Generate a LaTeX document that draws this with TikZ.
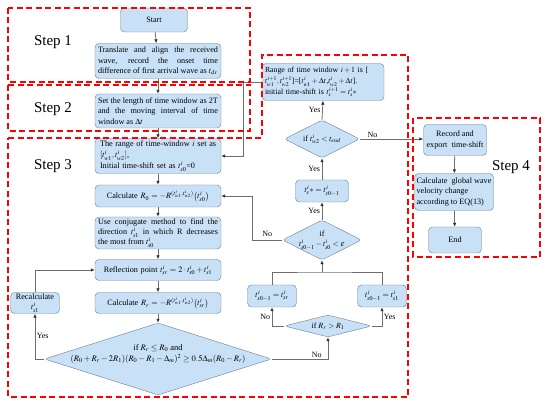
\documentclass[tikz,border=0pt]{standalone}
\usepackage{amsmath,amssymb}
\usepackage{mathptmx}
\usepackage{fontspec}
\setmainfont{Liberation Serif}
\usepackage{tikz}
\usetikzlibrary{arrows.meta,positioning,calc,shapes.geometric}
\definecolor{boxblue}{HTML}{C9E1F7}
\definecolor{boxedge}{HTML}{6B7C8E}
\definecolor{linegray}{HTML}{6E6E6E}
\newcommand{\nohyph}{\hyphenpenalty=10000\exhyphenpenalty=10000}
\tikzset{
  proc/.style={draw=boxedge,rounded corners=4pt,fill=boxblue,inner xsep=3pt,inner ysep=1pt,align=justify,
               font=\fontsize{8.2}{10.3}\selectfont\nohyph},
  decide/.style={draw=boxedge,diamond,rounded corners=3pt,fill=boxblue,inner sep=0pt},
  dtext/.style={align=center,inner sep=0pt,font=\fontsize{8}{10.5}\selectfont},
  link/.style={draw=linegray,line width=0.8pt,-{Latex[length=4pt,width=3.5pt,color=black!80]}},
  joint/.style={draw=linegray,line width=0.8pt},
  stepbox/.style={draw=red,line width=1.3pt,dash pattern=on 6pt off 3.5pt},
  steptext/.style={font=\fontsize{15}{17}\selectfont},
  yn/.style={font=\fontsize{8}{9}\selectfont,inner sep=1.5pt},
}

\begin{document}
\begin{tikzpicture}[x=1pt,y=-1pt]
  \useasboundingbox (0,0) rectangle (550,403);
  % main column
  \node[proc,minimum width=67pt,minimum height=24pt,align=center] (start) at (154,20) {Start};
  \node[proc,text width=120pt,minimum height=35pt] (trans) at (158,61) {Translate and align the received\linebreak
     wave, record the onset time\linebreak difference of first arrival wave as $t_{ds}$};
  \node[proc,text width=120pt,minimum height=34pt] (setw) at (158,111) {Set the length of time window as 2T\linebreak
     and the moving interval of time\linebreak window as $\Delta t$};
  \node[proc,text width=120pt,minimum height=35pt,align=left,font=\fontsize{8.2}{11.2}\selectfont] (rng) at (158,156)
     {\hspace*{2pt}The range of time-window $i$ set as\\ \hspace*{2pt}$[t^i_{w1},t^i_{w2}]$,\\
      \hspace*{2pt}Initial time-shift set as $t^i_{s0}$=0};
  \node[proc,text width=120pt,minimum height=22pt,align=center] (r0) at (158,196)
     {Calculate $R_0 = -R^{(t^i_{w1},t^i_{w2})}\big(t^i_{s0}\big)$};
  \node[proc,text width=120pt,minimum height=32pt] (conj) at (158,233) {Use conjugate method to find the\linebreak
     direction $t^i_{s1}$ in which R decreases\linebreak the most from $t^i_{s0}$};
  \node[proc,text width=120pt,minimum height=21pt,align=center] (refl) at (158,270)
     {Reflection point $t^i_{sr} = 2\cdot t^i_{s0} + t^i_{s1}$};
  \node[proc,text width=120pt,minimum height=21pt,align=center] (rr) at (158,303)
     {Calculate $R_r = -R^{(t^i_{w1},t^i_{w2})}\big(t^i_{sr}\big)$};
  \node[decide,minimum width=227pt,minimum height=72pt] (big) at (158,359) {};
  \node[dtext,font=\fontsize{8.5}{10.5}\selectfont] (bigt) at (158,354) {if $R_r \le R_0$ and\\
     $(R_0+R_r-2R_1)(R_0-R_1-\Delta_m)^2 \ge 0.5\Delta_m(R_0-R_r)$};
  \node[proc,minimum width=49pt,minimum height=21pt,align=center,inner sep=1pt] (recalc) at (35,303)
     {Recalculate\\ $t^i_{s1}$};

  % loop on the right
  \node[proc,text width=116pt,minimum height=37pt,align=left,font=\fontsize{7.8}{11}\selectfont] (nxt) at (323,82)
     {Range of time window $i+1$ is [\\ $t^{i+1}_{w1},t^{i+1}_{w2}$]=[$t^i_{w1}+\Delta t$,$t^i_{w2}+\Delta t$].\\
      initial time-shift is $t^{i+1}_s = t^i_s*$};
  \node[decide,minimum width=75pt,minimum height=38pt] (tend) at (322,139) {};
  \node[dtext] (tendt) at (tend) {if $t^i_{w2} < t_{end}$};
  \node[proc,minimum width=53pt,minimum height=22pt,align=center] (tstar) at (322,191) {$t^i_s* = t^i_{s0-1}$};
  \node[decide,minimum width=79pt,minimum height=40pt] (eps) at (322,240) {};
  \node[dtext] (epst) at (eps) {if\\ $t^i_{s0-1} - t^i_{s0} < \varepsilon$};
  \node[proc,minimum width=49pt,minimum height=22pt,align=center] (tsr) at (272,296) {$t^i_{s0-1} = t^i_{sr}$};
  \node[proc,minimum width=49pt,minimum height=22pt,align=center] (ts1) at (382,296) {$t^i_{s0-1} = t^i_{s1}$};
  \node[decide,minimum width=87pt,minimum height=22pt] (cmp) at (328,326) {};
  \node[dtext] (cmpt) at (cmp) {if $R_r > R_1$};

  % step 4
  \node[proc,minimum width=63pt,minimum height=31pt,align=center] (rec) at (455,140) {Record and\\ export\ \ time-shift};
  \node[proc,inner xsep=1pt,minimum width=79pt,minimum height=37pt,align=left] (glob) at (454,192)
     {Calculate\ \ global wave\\ velocity change\\ according to EQ(13)};
  \node[proc,minimum width=53pt,minimum height=26pt,align=center] (fin) at (455,240) {End};

  % connectors
  \draw[link] (start) -- (trans);
  \draw[link] (trans) -- (setw);
  \draw[link] (setw) -- (rng);
  \draw[link] (rng) -- (r0);
  \draw[link] (r0) -- (conj);
  \draw[link] (conj) -- (refl);
  \draw[link] (refl) -- (rr);
  \draw[link] (rr) -- (big);
  \draw[link] (big.west) -| (recalc.south) node[yn,pos=0.75,right] {Yes};
  \draw[link] (recalc.north) |- (refl.west);
  \draw[link] (big.east) -| (cmp.south) node[yn,pos=0.4,above] {No};
  \draw[link] (cmp.west) -| (tsr.south) node[yn,pos=0.75,left] {No};
  \draw[link] (cmp.east) -| (ts1.south) node[yn,pos=0.75,right] {Yes};
  \coordinate (jn) at (322,272);
  \draw[joint] (tsr.north) |- (jn) -| (ts1.north);
  \draw[link] (jn) -- (eps.south);
  \draw[link] (eps.north) -- (tstar.south) node[yn,midway,left] {Yes};
  \coordinate (k2) at (252,240);
  \draw[link] (eps.west) -- (k2) node[yn,midway,above=2pt] {No} |- (r0.east);
  \draw[link] (tstar.north) -- (tend.south) node[yn,midway,left] {Yes};
  \draw[link] (tend.north) -- (nxt.south) node[yn,midway,left] {Yes};
  \coordinate (k1) at (243,82);
  \draw[link] (nxt.west) -- (k1) |- (rng.east);
  \draw[link] (tend.east) -- (tend.east -| rec.west) node[yn,pos=0.2,above] {No};
  \draw[link] (rec) -- (glob);
  \draw[link] (glob) -- (fin);

  % steps
  \draw[stepbox] (8,8) rectangle (250,82);
  \draw[stepbox] (8,85) rectangle (250,131);
  \draw[stepbox] (8,138) -- (262,138) -- (262,55) -- (408,55) -- (408,397) -- (8,397) -- cycle;
  \draw[stepbox] (413,118) rectangle (540,257);
  \node[steptext] (st1) at (53,42) {Step 1};
  \node[steptext] (st2) at (53,109) {Step 2};
  \node[steptext] (st3) at (53,166) {Step 3};
  \node[steptext] (st4) at (511,167) {Step 4};
\end{tikzpicture}
\end{document}
